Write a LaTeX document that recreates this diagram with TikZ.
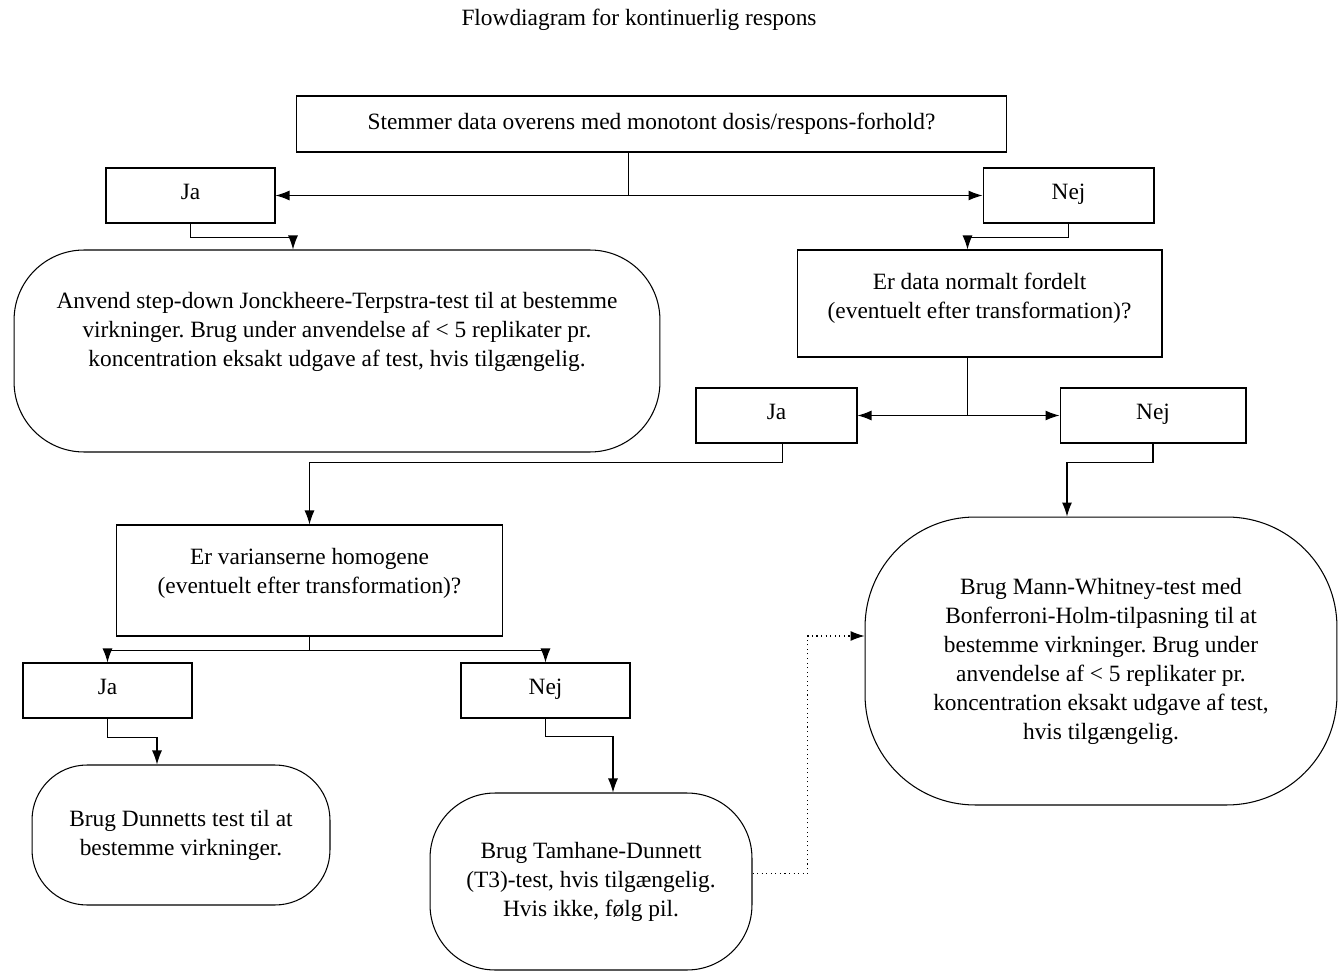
\documentclass[tikz,border=0pt]{standalone}
\usepackage{fontspec}
\setmainfont{Liberation Serif}
\usetikzlibrary{arrows.meta}
\begin{document}
\frenchspacing
\begin{tikzpicture}[x=0.02cm, y=-0.02cm,
  font=\fontsize{13.3}{16.5}\selectfont,
  box/.style={draw, line width=0.6pt, inner sep=0pt, align=center},
  answer/.style={box, minimum height=1.1cm, text height=1.6ex, text depth=0.5ex},
  endbox/.style={box, rounded corners=#1},
  arr/.style={line width=0.6pt, -{Latex[length=2.8mm,width=2mm]}}]
\useasboundingbox (0,0) rectangle (1339,973);
\node (title) at (639,20) {Flowdiagram for kontinuerlig respons};
% first question
\node[box, minimum width=14.22cm, minimum height=1.12cm] (q1) at (651.5,124) {Stemmer data overens med monotont dosis/respons-forhold?};
\node[answer, minimum width=3.38cm] (ja1) at (190.5,195.5) {Ja};
\node[answer, minimum width=3.42cm] (nej1) at (1068.5,195.5) {Nej};
\node[endbox=1.4cm, minimum width=12.92cm, minimum height=4.04cm, text depth=0.85cm] (anv) at (337,351) {Anvend step-down Jonckheere-Terpstra-test til at bestemme\\virkninger. Brug under anvendelse af < 5 replikater pr.\\koncentration eksakt udgave af test, hvis tilgængelig.};
% normal distribution
\node[box, minimum width=7.3cm, minimum height=2.14cm, text depth=0.3cm] (q2) at (979.5,303.5) {Er data normalt fordelt\\(eventuelt efter transformation)?};
\node[answer, minimum width=3.22cm] (ja2) at (776.5,415.5) {Ja};
\node[answer, minimum width=3.72cm] (nej2) at (1153,415.5) {Nej};
% variances
\node[box, minimum width=7.74cm, minimum height=2.22cm, text depth=0.38cm] (q3) at (309.5,580.5) {Er varianserne homogene\\(eventuelt efter transformation)?};
\node[answer, minimum width=3.38cm] (ja3) at (107.5,690.5) {Ja};
\node[answer, minimum width=3.38cm] (nej3) at (545.5,690.5) {Nej};
\node[endbox=1.1cm, minimum width=5.96cm, minimum height=2.8cm] (dun) at (181,835) {Brug Dunnetts test til at\\bestemme virkninger.};
\node[endbox=1.3cm, minimum width=6.44cm, minimum height=3.54cm] (tam) at (591,881.5) {Brug Tamhane-Dunnett\\(T3)-test, hvis tilgængelig.\\Hvis ikke, følg pil.};
\node[endbox=2.2cm, minimum width=9.44cm, minimum height=5.76cm] (mw) at (1101,661) {Brug Mann-Whitney-test med\\Bonferroni-Holm-tilpasning til at\\bestemme virkninger. Brug under\\anvendelse af < 5 replikater pr.\\koncentration eksakt udgave af test,\\hvis tilgængelig.};
% connectors
\draw[arr] ([shift={(-23,0)}]q1.south) |- (ja1.east);
\draw[arr] ([shift={(-23,0)}]q1.south) |- (nej1.west);
\draw[arr] (ja1.south) -- ++(0,14) -| ([shift={(-44,0)}]anv.north);
\draw[arr] (nej1.south) -- ++(0,14) -| ([shift={(-12,0)}]q2.north);
\draw[arr] ([shift={(-12,0)}]q2.south) |- (ja2.east);
\draw[arr] ([shift={(-12,0)}]q2.south) |- (nej2.west);
\draw[arr] ([shift={(6,0)}]ja2.south) -- ++(0,19) -| (q3.north);
\draw[arr] (nej2.south) -- ++(0,19) -| ([shift={(-34,0)}]mw.north);
\draw[arr] (q3.south) -- ++(0,14) -| (ja3.north);
\draw[arr] (q3.south) -- ++(0,14) -| (nej3.north);
\draw[arr] (ja3.south) -- ++(0,19) -| ([shift={(-24,0)}]dun.north);
\draw[arr] (nej3.south) -- ++(0,18) -| ([shift={(22,0)}]tam.north);
\draw[arr, dotted] ([shift={(0,-8)}]tam.east) -- ++(55,0) |- ([shift={(0,-25)}]mw.west);
\end{tikzpicture}
\end{document}
